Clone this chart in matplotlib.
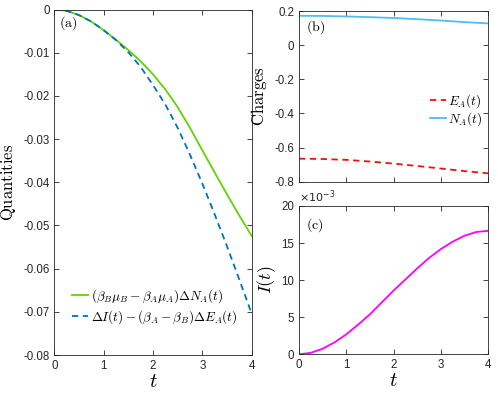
import matplotlib
matplotlib.use("Agg")
import matplotlib.pyplot as plt
from matplotlib.ticker import FixedLocator, FixedFormatter

plt.rcParams['mathtext.fontset'] = 'cm'
plt.rcParams['font.family'] = ['Liberation Sans', 'DejaVu Sans']

# ---- data ----
t_vals = [0, 0.25, 0.5, 0.75, 1.0, 1.25, 1.5, 1.75, 2.0, 2.25, 2.5, 2.75, 3.0, 3.25, 3.5, 3.75, 4.0]
green_a = [0, -0.0003, -0.0013, -0.0028, -0.0048, -0.0070, -0.0094, -0.0120, -0.0150,
           -0.0185, -0.0226, -0.0274, -0.0326, -0.0377, -0.0428, -0.0477, -0.0524]
blue_a = [0, -0.0003, -0.0013, -0.0028, -0.0048, -0.0071, -0.0099, -0.0133, -0.0175,
          -0.0220, -0.0274, -0.0336, -0.0403, -0.0474, -0.0548, -0.0625, -0.0704]

t_b = [0, 0.5, 1.0, 1.5, 2.0, 2.5, 3.0, 3.5, 4.0]
E_A = [-0.665, -0.667, -0.672, -0.682, -0.694, -0.708, -0.723, -0.738, -0.751]
N_A = [0.172, 0.171, 0.168, 0.164, 0.159, 0.152, 0.144, 0.135, 0.127]

I_t = [0, 0.2, 0.75, 1.6, 2.7, 4.0, 5.4, 7.0, 8.6, 10.1, 11.6, 13.0, 14.2, 15.2, 16.0, 16.5, 16.65]  # x1e-3

x_ticks = [0, 1, 2, 3, 4]
a_yticks = [0, -0.01, -0.02, -0.03, -0.04, -0.05, -0.06, -0.07, -0.08]
a_ylabels = ['0', '-0.01', '-0.02', '-0.03', '-0.04', '-0.05', '-0.06', '-0.07', '-0.08']
b_yticks = [0.2, 0, -0.2, -0.4, -0.6, -0.8]
b_ylabels = ['0.2', '0', '-0.2', '-0.4', '-0.6', '-0.8']
c_yticks = [0, 5, 10, 15, 20]
c_ylabels = ['0', '5', '10', '15', '20']

W, H = 498, 397
fig = plt.figure(figsize=(W / 100, H / 100), dpi=100)

def box(l, t, r, b):
    return [l / W, 1 - b / H, (r - l) / W, (b - t) / H]

axA = fig.add_axes(box(54.4, 9.5, 251.6, 355))
axB = fig.add_axes(box(299, 11, 488.3, 181.7))
axC = fig.add_axes(box(299, 206, 488.3, 354.3))

spine_col = '#262626'
for ax in (axA, axB, axC):
    ax.tick_params(direction='in', top=True, right=True, length=3.5, width=0.6,
                   labelsize=8.3, colors=spine_col, pad=3.5)
    for s in ax.spines.values():
        s.set_linewidth(0.6)
        s.set_color(spine_col)
    ax.set_xlim(0, 4)
    ax.xaxis.set_major_locator(FixedLocator(x_ticks))

# panel a
axA.plot(t_vals, green_a, color='#5fd400', lw=1.3,
         label=r'$(\beta_B\mu_B-\beta_A\mu_A)\Delta N_A(t)$')
axA.plot(t_vals, blue_a, color='#0072BD', lw=1.3, ls=(0, (3.5, 2.5)),
         label=r'$\Delta I(t)-(\beta_A-\beta_B)\Delta E_A(t)$')
axA.set_ylim(-0.08, 0)
axA.yaxis.set_major_locator(FixedLocator(a_yticks))
axA.yaxis.set_major_formatter(FixedFormatter(a_ylabels))
axA.set_xticklabels([str(v) for v in x_ticks])
axA.set_ylabel(r'$\mathrm{Quantities}$', fontsize=12)
axA.yaxis.set_label_coords(-0.183, 0.5)
axA.set_xlabel(r'$t$', fontsize=15, labelpad=0)
axA.text(0.025, 0.985, r'$\mathrm{(a)}$', transform=axA.transAxes, fontsize=10, va='top', ha='left')
axA.legend(loc='lower left', bbox_to_anchor=(0.05, 0.06), frameon=False, fontsize=9.5,
           handlelength=1.2, handletextpad=0.2, labelspacing=0.3, borderpad=0.1)

# panel b
axB.plot(t_b, E_A, color='#ee1111', lw=1.3, ls=(0, (3.5, 2.5)), label=r'$E_A(t)$')
axB.plot(t_b, N_A, color='#4DBEEE', lw=1.3, label=r'$N_A(t)$')
axB.set_ylim(-0.8, 0.2)
axB.yaxis.set_major_locator(FixedLocator(b_yticks))
axB.yaxis.set_major_formatter(FixedFormatter(b_ylabels))
axB.set_xticklabels([])
axB.set_ylabel(r'$\mathrm{Charges}$', fontsize=12)
axB.yaxis.set_label_coords(-0.158, 0.5)
axB.text(0.035, 0.955, r'$\mathrm{(b)}$', transform=axB.transAxes, fontsize=10, va='top', ha='left')
axB.legend(loc='center right', bbox_to_anchor=(1.01, 0.42), frameon=False, fontsize=9.5,
           handlelength=1.2, handletextpad=0.2, labelspacing=0.05, borderpad=0.1)

# panel c
axC.plot(t_vals, I_t, color='#ff00ff', lw=1.3)
axC.set_ylim(0, 20)
axC.yaxis.set_major_locator(FixedLocator(c_yticks))
axC.yaxis.set_major_formatter(FixedFormatter(c_ylabels))
axC.set_xticklabels([str(v) for v in x_ticks])
axC.set_ylabel(r'$I(t)$', fontsize=13)
axC.yaxis.set_label_coords(-0.11, 0.5)
axC.set_xlabel(r'$t$', fontsize=15, labelpad=0)
axC.text(0.035, 0.93, r'$\mathrm{(c)}$', transform=axC.transAxes, fontsize=10, va='top', ha='left')
axC.text(0.0, 1.01, r'$\times10^{-3}$', transform=axC.transAxes, fontsize=8, va='bottom',
         ha='left', color=spine_col, math_fontfamily='dejavusans')

fig.savefig('out.png', dpi=100)
